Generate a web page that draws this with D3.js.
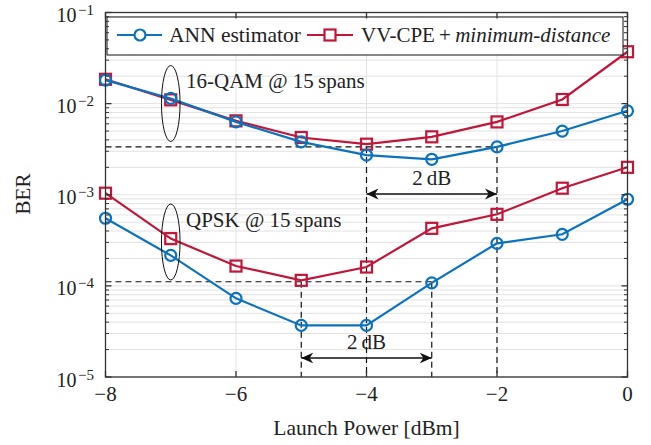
<!DOCTYPE html>
<meta charset="utf-8">
<script src="https://d3js.org/d3.v7.min.js"></script>
<style>
  body { margin: 0; background: #fff; }
  text { font-family: "Liberation Serif", "Times New Roman", serif; fill: #222; }
</style>
<body>
<script>
// launch power (dBm) and BER curves
var power = [-8, -7, -6, -5, -4, -3, -2, -1, 0];
var qamAnn = [0.0181, 0.0114, 0.0063, 0.0038, 0.00272, 0.00245, 0.00335, 0.0050, 0.00834];
var qamVv = [0.0185, 0.0110, 0.00647, 0.00425, 0.00359, 0.00432, 0.0063, 0.0111, 0.0371];
var qpskAnn = [0.000552, 0.000216, 0.0000729, 0.0000368, 0.0000368, 0.000108, 0.000293, 0.000368, 0.000893];
var qpskVv = [0.00104, 0.00033, 0.000165, 0.000115, 0.000161, 0.000428, 0.00061, 0.00118, 0.0020];

var xTicks = [-8, -6, -4, -2, 0];
var yExp = [-1, -2, -3, -4, -5];
var legendNames = ["ANN estimator", "VV-CPE"];

// annotation levels
var qamLevel = 0.00335, qamFrom = -4, qamTo = -2;
var qpskLevel = 0.000111, qpskFrom = -5, qpskTo = -3;

var W = 651, H = 445;
var m = {left: 105.5, right: 23.5, top: 12.5, bottom: 68};
var blue = "#0b72bd", red = "#c0163a";

var svg = d3.select("body").append("svg").attr("width", W).attr("height", H);

var x = d3.scaleLinear().domain([-8, 0]).range([m.left, W - m.right]);
var y = d3.scaleLog().domain([1e-5, 1e-1]).range([H - m.bottom, m.top]);

var defs = svg.append("defs");
defs.append("marker").attr("id", "arr").attr("viewBox", "0 0 10 10")
  .attr("refX", 10).attr("refY", 5).attr("markerWidth", 12).attr("markerHeight", 12)
  .attr("markerUnits", "userSpaceOnUse").attr("orient", "auto-start-reverse")
  .append("path").attr("d", "M0,0.5 L10,5 L0,9.5 L3,5 Z").attr("fill", "#111");

// minor / major y values
var minors = [];
for (var e = -5; e < -1; e++) for (var k = 2; k <= 9; k++) minors.push(k * Math.pow(10, e));
var majors = yExp.map(function(d) { return Math.pow(10, d); });

var grid = svg.append("g");
grid.selectAll(".hy").data(minors.concat(majors)).enter().append("line")
  .attr("x1", x(-8)).attr("x2", x(0))
  .attr("y1", function(d) { return y(d); }).attr("y2", function(d) { return y(d); })
  .style("stroke", "#e2e2e2").style("stroke-width", 1);
grid.selectAll(".vx").data(xTicks).enter().append("line")
  .attr("x1", function(d) { return x(d); }).attr("x2", function(d) { return x(d); })
  .attr("y1", y(1e-1)).attr("y2", y(1e-5))
  .style("stroke", "#e2e2e2").style("stroke-width", 1);

// dashed helper lines
var dash = svg.append("g").style("stroke", "#111").style("stroke-width", 1.2)
  .style("stroke-dasharray", "6,4").style("fill", "none");
[[qamLevel, qamFrom, qamTo], [qpskLevel, qpskFrom, qpskTo]].forEach(function(a) {
  dash.append("line").attr("x1", x(-8)).attr("x2", x(a[2])).attr("y1", y(a[0])).attr("y2", y(a[0]));
  dash.append("line").attr("x1", x(a[1])).attr("x2", x(a[1])).attr("y1", y(a[0])).attr("y2", y(1e-5));
  dash.append("line").attr("x1", x(a[2])).attr("x2", x(a[2])).attr("y1", y(a[0])).attr("y2", y(1e-5));
});

// 2 dB arrows
function dbArrow(a, b, yy) {
  svg.append("line").attr("x1", x(a)).attr("x2", x(b)).attr("y1", yy).attr("y2", yy)
    .style("stroke", "#111").style("stroke-width", 1.3)
    .attr("marker-start", "url(#arr)").attr("marker-end", "url(#arr)");
  svg.append("text").attr("x", x((a + b) / 2)).attr("y", yy - 9)
    .attr("text-anchor", "middle").style("font-size", "21px").text("2\u2009dB");
}
dbArrow(qamFrom, qamTo, 194);
dbArrow(qpskFrom, qpskTo, 358);

var line = d3.line().x(function(d) { return x(d[0]); }).y(function(d) { return y(d[1]); });

function drawSeries(vals, color, shape) {
  var pts = power.map(function(p, i) { return [p, vals[i]]; });
  svg.append("path").datum(pts).attr("d", line)
    .style("fill", "none").style("stroke", color).style("stroke-width", 2.2);
  var g = svg.append("g");
  if (shape === "circle") {
    g.selectAll("circle").data(pts).enter().append("circle")
      .attr("cx", function(d) { return x(d[0]); }).attr("cy", function(d) { return y(d[1]); })
      .attr("r", 5.5).style("fill", "none").style("stroke", color).style("stroke-width", 2.2);
  } else {
    g.selectAll("rect").data(pts).enter().append("rect")
      .attr("x", function(d) { return x(d[0]) - 5.5; }).attr("y", function(d) { return y(d[1]) - 5.5; })
      .attr("width", 11).attr("height", 11)
      .style("fill", "none").style("stroke", color).style("stroke-width", 2.2);
  }
}
drawSeries(qamVv, red, "square");
drawSeries(qamAnn, blue, "circle");
drawSeries(qpskVv, red, "square");
drawSeries(qpskAnn, blue, "circle");

// ellipses + group labels
svg.append("ellipse").attr("cx", x(-7)).attr("cy", 103.5).attr("rx", 9.3).attr("ry", 38)
  .style("fill", "none").style("stroke", "#111").style("stroke-width", 1);
svg.append("ellipse").attr("cx", x(-7)).attr("cy", 242).attr("rx", 9.3).attr("ry", 38)
  .style("fill", "none").style("stroke", "#111").style("stroke-width", 1);
svg.append("text").attr("x", 186).attr("y", 88).style("font-size", "21px").text("16-QAM @ 15\u2009spans");
svg.append("text").attr("x", 186).attr("y", 227).style("font-size", "21px").text("QPSK @ 15\u2009spans");

// legend
var lg = svg.append("g");
lg.append("rect").attr("x", 107).attr("y", 17).attr("width", 516).attr("height", 38)
  .style("fill", "#fff").style("stroke", "#111").style("stroke-width", 1);
lg.append("line").attr("x1", 117).attr("x2", 162).attr("y1", 35).attr("y2", 35)
  .style("stroke", blue).style("stroke-width", 2.2);
lg.append("circle").attr("cx", 140).attr("cy", 35).attr("r", 5.5)
  .style("fill", "#fff").style("stroke", blue).style("stroke-width", 2.2);
lg.append("text").attr("x", 169).attr("y", 42).style("font-size", "21.5px").text(legendNames[0]);
lg.append("line").attr("x1", 307).attr("x2", 353).attr("y1", 35).attr("y2", 35)
  .style("stroke", red).style("stroke-width", 2.2);
lg.append("rect").attr("x", 324.5).attr("y", 29.5).attr("width", 11).attr("height", 11)
  .style("fill", "#fff").style("stroke", red).style("stroke-width", 2.2);
var lt = lg.append("text").attr("x", 361).attr("y", 42).style("font-size", "21px");
lt.append("tspan").text(legendNames[1] + "\u2009+\u2009");
lt.append("tspan").style("font-style", "italic").text("minimum-distance");

// frame and ticks
var fr = svg.append("g").style("stroke", "#333").style("stroke-width", 1.3);
fr.append("rect").attr("x", x(-8)).attr("y", y(1e-1)).attr("width", x(0) - x(-8)).attr("height", y(1e-5) - y(1e-1))
  .style("fill", "none");
majors.forEach(function(v) {
  fr.append("line").attr("x1", x(-8)).attr("x2", x(-8) + 6).attr("y1", y(v)).attr("y2", y(v));
  fr.append("line").attr("x1", x(0)).attr("x2", x(0) - 6).attr("y1", y(v)).attr("y2", y(v));
});
minors.forEach(function(v) {
  fr.append("line").attr("x1", x(-8)).attr("x2", x(-8) + 3.5).attr("y1", y(v)).attr("y2", y(v)).style("stroke-width", 1);
  fr.append("line").attr("x1", x(0)).attr("x2", x(0) - 3.5).attr("y1", y(v)).attr("y2", y(v)).style("stroke-width", 1);
});
xTicks.forEach(function(v) {
  fr.append("line").attr("x1", x(v)).attr("x2", x(v)).attr("y1", y(1e-5)).attr("y2", y(1e-5) - 6);
  fr.append("line").attr("x1", x(v)).attr("x2", x(v)).attr("y1", y(1e-1)).attr("y2", y(1e-1) + 6);
});

// tick labels
svg.selectAll(".xl").data(xTicks).enter().append("text")
  .attr("x", function(d) { return x(d); }).attr("y", 401)
  .attr("text-anchor", "middle").style("font-size", "21px")
  .text(function(d) { return d < 0 ? "\u2212" + Math.abs(d) : "" + d; });
yExp.forEach(function(e) {
  var t = svg.append("text").attr("x", 94).attr("y", y(Math.pow(10, e)) + 9.5)
    .attr("text-anchor", "end").style("font-size", "20px");
  t.append("tspan").text("10");
  t.append("tspan").attr("dy", -7).attr("dx", 1.5).style("font-size", "15px").text("\u2212" + Math.abs(e));
});

// axis titles
svg.append("text").attr("x", (x(-8) + x(0)) / 2).attr("y", 435)
  .attr("text-anchor", "middle").style("font-size", "21.5px").text("Launch Power [dBm]");
svg.append("text").attr("transform", "translate(30," + 194 + ") rotate(-90)")
  .attr("text-anchor", "middle").style("font-size", "21px").text("BER");
</script>
</body>
